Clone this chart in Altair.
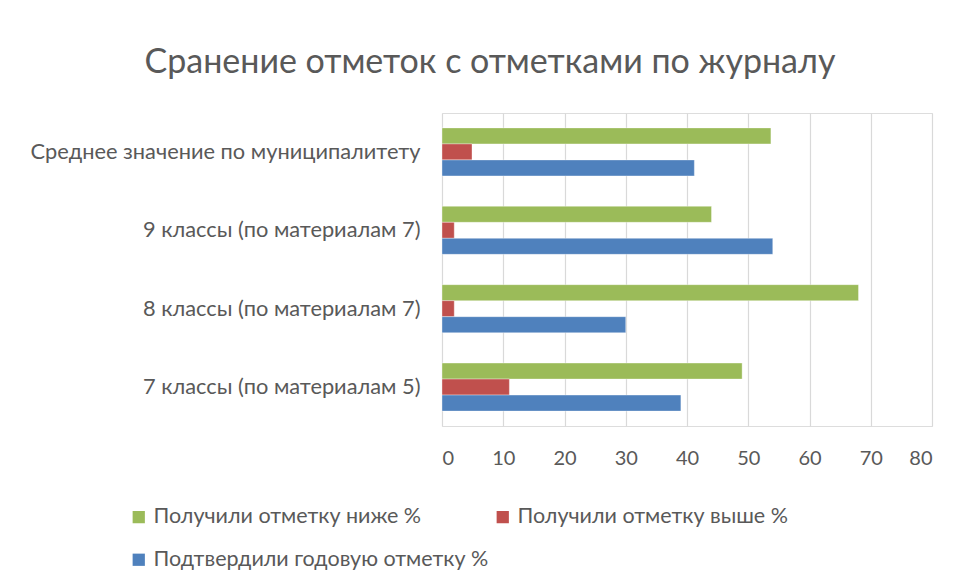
import altair as alt
import pandas as pd

categories = ["Среднее значение по муниципалитету", "9 классы (по материалам 7)",
              "8 классы (по материалам 7)", "7 классы (по материалам 5)"]
series = ["Получили отметку ниже %", "Получили отметку выше %", "Подтвердили годовую отметку %"]
lower = [53.7, 44, 68, 49]
higher = [4.9, 2, 2, 11]
confirmed = [41.2, 54, 30, 39]
colors = ["#9BBB59", "#C0504D", "#4F81BD"]
x_ticks = [0, 10, 20, 30, 40, 50, 60, 70, 80]

rows = []
for i, c in enumerate(categories):
    for s, vals in zip(series, [lower, higher, confirmed]):
        rows.append({"cat": c, "series": s, "value": vals[i]})
df = pd.DataFrame(rows)

FONT = "Lato"
TXT = "#595959"

chart = alt.Chart(df).mark_bar(stroke="#ffffff", strokeWidth=0.6, strokeOpacity=0.6).encode(
    y=alt.Y("cat:N", sort=categories, title=None,
            scale=alt.Scale(paddingInner=0.387, paddingOuter=0.19),
            axis=alt.Axis(labelFontSize=21.8, labelColor=TXT, labelFont=FONT, ticks=False,
                          domain=False, labelPadding=22, labelLimit=500)),
    yOffset=alt.YOffset("series:N", sort=series, scale=alt.Scale(paddingInner=0, paddingOuter=0)),
    x=alt.X("value:Q", title=None,
            scale=alt.Scale(domain=[0, 80], nice=False),
            axis=alt.Axis(values=x_ticks, labelFontSize=20, labelColor=TXT, labelFont=FONT,
                          ticks=False, domain=False, labelPadding=22,
                          grid=True, gridColor="#D9D9D9", gridWidth=1.2)),
    color=alt.Color("series:N", sort=series,
                    scale=alt.Scale(domain=series, range=colors),
                    legend=alt.Legend(title=None, orient="none", legendX=-314, legendY=393,
                                      direction="horizontal",
                                      columns=2, symbolType="square", symbolSize=150,
                                      symbolStrokeWidth=0, labelFontSize=21.5, labelColor=TXT,
                                      labelFont=FONT, rowPadding=20, columnPadding=3,
                                      labelLimit=500)),
).properties(
    width=490, height=313,
    title=alt.TitleParams("Сранение отметок с отметками по журналу", fontSize=34,
                          font=FONT, color=TXT, fontWeight="normal", anchor="middle",
                          dx=-197, offset=33),
    autosize=alt.AutoSizeParams(type="none"),
    padding={"left": 434, "top": 105, "right": 20, "bottom": 157},
).configure_view(stroke=None).configure(background="white")

chart.save("out.html", embed_options={"renderer": "svg", "actions": False})
